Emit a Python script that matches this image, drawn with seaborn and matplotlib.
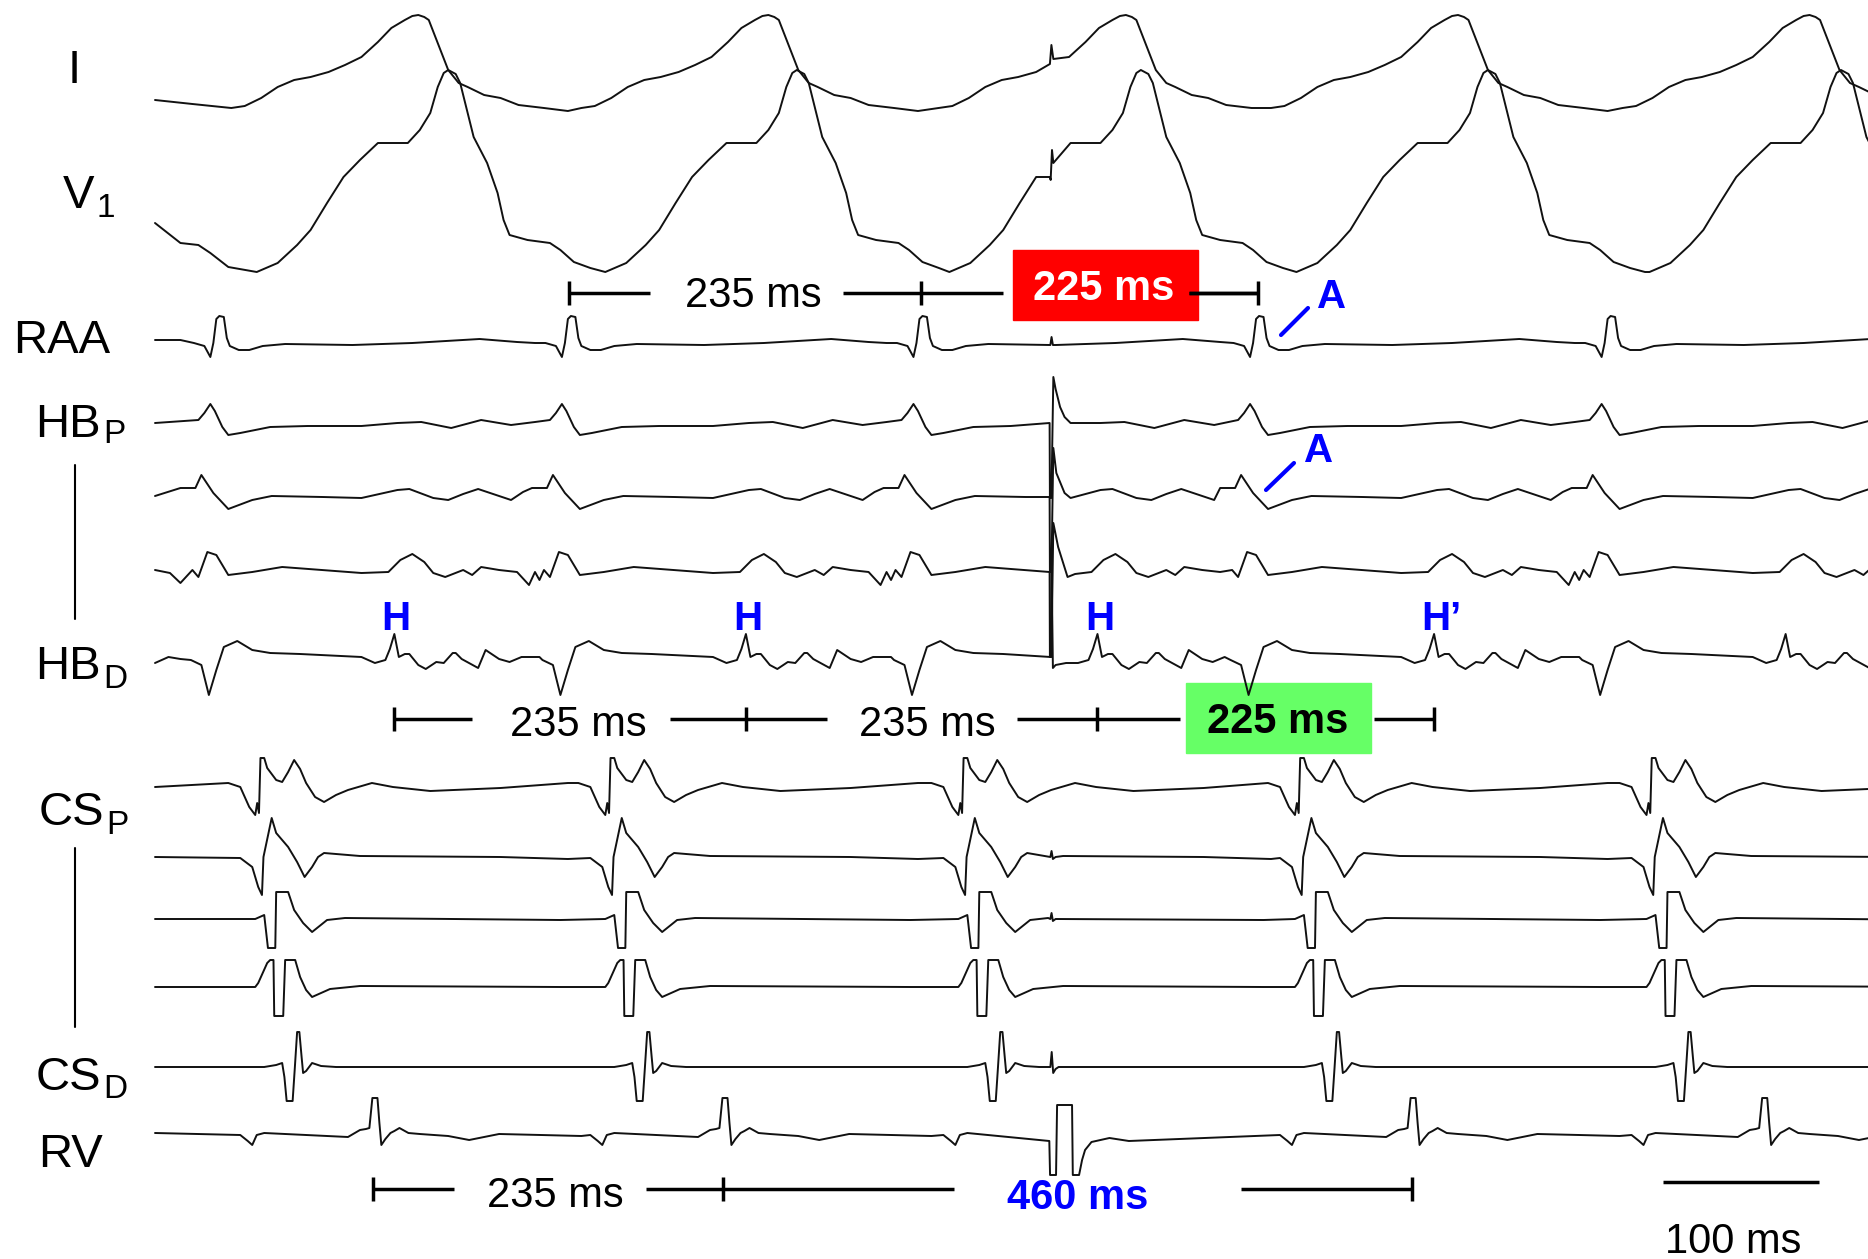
import numpy as np
import pandas as pd
import matplotlib.pyplot as plt
import seaborn as sns
from matplotlib.patches import Rectangle

sns.set_theme(style='white')
plt.rcParams['font.family'] = ['Liberation Sans', 'DejaVu Sans']
plt.rcParams['text.color'] = 'black'

# ---- timing (ms from the left edge of the traces) ----
RAA_T = [42, 277, 512, 737, 972]       # RAA upstrokes
H_T = [160, 395, 630, 855, 1090]       # His deflections (4th one is H')
V_T = [71, 305, 541, 766, 1001]        # CS ventricular upstrokes
RV_T = [146, 380, 840, 1075]           # RV electrograms
I_PEAK = [176, 410, 649, 871, 1106]
V1_PEAK = [196, 429, 659, 891, 1127]
STIM_T = 599                           # extrastimulus artefact

# ---- waveform shapes: (ms relative to event, amplitude in px, up = +) ----
I_SHAPE = [(-125, -8), (-116, -6), (-105, 2), (-94, 13), (-83, 20), (-72, 23), (-60, 28),
           (-49, 35), (-38, 43), (-27, 58), (-18, 72), (-9, 80), (-4, 84), (0, 85), (4, 83),
           (7, 80), (13, 57), (20, 30), (27, 17), (33, 13), (44, 5), (55, 2), (67, -5),
           (84, -8), (100, -11)]
V1_SHAPE = [(-128, -32), (-114, -23), (-101, -5), (-92, 10), (-81, 37), (-70, 63), (-59, 80),
            (-47, 97), (-37, 97), (-27, 97), (-19, 110), (-12, 127), (-7, 153), (-3, 167),
            (0, 170), (5, 166), (8, 157), (13, 127), (17, 103), (26, 77), (33, 47), (37, 20),
            (41, 5), (53, 0), (68, -3), (75, -10), (84, -22), (95, -28), (105, -32)]
RAA_SHAPE = [(-16, 0), (-9, -3), (-5, -14), (-3, 0), (-1, 24), (1, 27), (4, 26), (6, 5),
             (8, -3), (14, -7), (21, -7), (30, -3), (45, -1), (90, -2), (130, 0), (175, 4),
             (200, 1), (212, 0)]
HBP_SHAPE = [(-13, 3), (-9, 10), (-5, 19), (-2, 12), (3, -4), (7, -12), (15, -10), (35, -4),
             (60, -3), (96, -3), (120, 0), (136, 1), (156, -5), (176, 3), (196, -2), (212, 1)]
HB2_SHAPE = [(-25, 9), (-15, 9), (-11, 22), (-3, 4), (7, -12), (23, -3), (36, 1), (70, 0),
             (96, -1), (120, 7), (128, 8), (144, -1), (154, -3), (164, 3), (174, 8), (184, 3),
             (196, -3), (204, 5)]
HB3_SHAPE = [(-17, 2), (-13, -5), (-7, 20), (-1, 17), (7, -3), (23, 0), (43, 5), (96, -1),
             (114, 0), (122, 12), (130, 18), (138, 10), (144, -1), (152, -5), (164, 2),
             (170, -3), (176, 5), (188, 2), (200, 0), (208, -13), (212, 0), (215, -8)]
HBD_A_SHAPE = [(-18, -3), (-11, -8), (-6, -38), (-1, -13), (4, 10), (13, 16), (23, 7),
               (35, 4), (55, 3), (96, 0)]
HBD_H_SHAPE = [(-13, -6), (-6, -3), (-3, 8), (0, 23), (3, 0), (7, 3), (10, 3), (16, -8),
               (21, -12), (28, -5), (33, -6), (39, 4), (41, 4), (45, -2), (56, -11), (61, 7),
               (70, -2), (77, -5), (85, 0), (97, 0), (106, -6)]
CSP_SHAPE = [(-22, 4), (-14, 0), (-8, -20), (-4, -28), (-2.7, -16), (-1.5, -26), (-0.5, 29),
             (2, 29), (4, 19), (10, 7), (14, 5), (18, 15), (22, 27), (26, 18), (30, 4),
             (36, -10), (42, -15), (50, -8), (58, -3), (74, 4), (88, 0), (113, -4),
             (160, -1), (205, 4)]
CS2_SHAPE = [(-14, -1), (-6, -10), (-2, -30), (0.5, -38), (1.5, 0), (7, 39), (10, 24),
             (18, 10), (24, -5), (29, -20), (34, -10), (38, 0), (42, 4), (66, 1), (160, 0),
             (205, -2)]
CS3_SHAPE = [(-4, 0), (2, 4), (4.5, -29), (9.4, -29), (10, 27), (18, 27), (22, 9), (28, -4),
             (34, -13), (44, -1), (56, 1), (200, -1)]
CS4_SHAPE = [(-4, 0), (-2, 4), (4, 24), (6, 27), (8.2, 27), (8.7, -29), (14.7, -29),
             (16, 27), (22.7, 27), (26, 10), (30, -3), (34, -10), (40, -6), (46, -2),
             (66, 1), (200, 0)]
CSD_SHAPE = [(2, 0), (10, 2), (14, 4), (15.5, -10), (17, -34), (21, -34), (22.5, 0),
             (24, 35), (25.5, 35), (27, 10), (28, -6), (30, -4), (34, 4), (40, 1), (50, 0),
             (200, 0)]
RV_DIP_SHAPE = [(-14, -2), (-9, -8), (-6, -12), (-3, -2), (2, 0)]
RV_SPIKE_SHAPE = [(-17, -4), (-9, 3), (-5, 4), (-2.7, 5), (-0.7, 35), (2.7, 35), (4, 10),
                  (5.3, -12), (8, -6), (11.4, 0), (14, 2), (17.4, 5), (23.4, 0), (31, -1),
                  (50, -3), (64, -7), (84, -1), (112, -2), (139, -3)]

# stimulus artefacts, relative to STIM_T
I_STIM = [(-0.8, 36), (0.2, 55), (1.5, 41)]
V1_STIM = [(-0.8, 63), (-0.3, 60), (0.6, 90), (1.5, 77)]
RAA_STIM = [(-0.5, -2), (0.3, 6), (1.2, -2)]
HBP_STIM = [(-1.0, 0), (-0.8, -75), (0.2, -75), (1.5, 46), (3, 34), (6, 16), (9, 6), (13, 0)]
HB2_STIM = [(-1.0, 0), (-0.8, -75), (0.2, -75), (1.5, 49), (3.5, 24), (9, 4), (13, -1)]
HB3_STIM = [(-1.0, 0), (-0.8, -85), (0.2, -85), (1.5, 49), (4.7, 25), (11, -5), (16, -2)]
HBD_STIM = [(-1.0, 0), (-0.3, 0), (0.3, 95), (1.2, -11), (3, -8), (10, -6), (17, -6)]
CS_SMALL_STIM = [(-0.5, 0), (0.3, 6), (1.2, -2), (3, 0)]
CSD_STIM = [(-0.5, 0), (0.4, 15), (1.4, -6), (3, -2), (5, 0)]
RV_STIM = [(-1.2, -8), (-0.7, -42), (3.3, -42), (4, 28), (14, 28), (14.5, -42), (18.7, -42),
           (20.7, -27), (22.7, -17), (27, -9), (39, -5), (52, -8)]

# start of each trace before its first complex
I_LEAD = [(0, 0), (25, -4)]
V1_LEAD = [(0, 17), (17, -3), (29, -5), (37, -13), (49, -27)]
RAA_LEAD = [(0, 3), (17, 3)]
HBP_LEAD = [(0, 0)]
HB2_LEAD = [(0, 1)]
HB3_LEAD = [(0, 2), (10, -1), (17, -11)]
HBD_LEAD = [(0, -6), (9, 0), (17, -2)]
FLAT_LEAD = [(0, 0)]

# name, baseline row (px), lead-in, [(shape, event times)], [(artefact, time)]
TRACES = [
    ('I', 100, I_LEAD, [(I_SHAPE, I_PEAK)], [(I_STIM, STIM_T)]),
    ('V1', 240, V1_LEAD, [(V1_SHAPE, V1_PEAK)], [(V1_STIM, STIM_T)]),
    ('RAA', 343, RAA_LEAD, [(RAA_SHAPE, RAA_T)], [(RAA_STIM, STIM_T)]),
    ('HBP', 423, HBP_LEAD, [(HBP_SHAPE, RAA_T)], [(HBP_STIM, STIM_T)]),
    ('HB2', 497, HB2_LEAD, [(HB2_SHAPE, RAA_T)], [(HB2_STIM, STIM_T)]),
    ('HB3', 572, HB3_LEAD, [(HB3_SHAPE, RAA_T)], [(HB3_STIM, STIM_T)]),
    ('HBD', 657, HBD_LEAD, [(HBD_A_SHAPE, RAA_T), (HBD_H_SHAPE, H_T)], [(HBD_STIM, STIM_T)]),
    ('CSP', 787, FLAT_LEAD, [(CSP_SHAPE, V_T)], []),
    ('CS2', 857, FLAT_LEAD, [(CS2_SHAPE, V_T)], [(CS_SMALL_STIM, STIM_T)]),
    ('CS3', 919, FLAT_LEAD, [(CS3_SHAPE, V_T)], [(CS_SMALL_STIM, STIM_T)]),
    ('CS4', 987, FLAT_LEAD, [(CS4_SHAPE, V_T)], []),
    ('CSD', 1067, FLAT_LEAD, [(CSD_SHAPE, V_T)], [(CSD_STIM, STIM_T)]),
    ('RV', 1133, FLAT_LEAD, [(RV_DIP_SHAPE, V_T), (RV_SPIKE_SHAPE, RV_T)], [(RV_STIM, STIM_T)]),
]

X0_PX = 155
PX_PER_MS = 1.496


def ms(px):
    return (px - X0_PX) / PX_PER_MS


def build_trace(base, lead, events, inserts):
    evs = [np.asarray(lead, float)]
    for shape, times in events:
        s = np.asarray(shape, float)
        for t in times:
            evs.append(s + [t, 0])
    evs.sort(key=lambda e: e[0, 0])
    keep = []
    for i, e in enumerate(evs):
        if i + 1 < len(evs):
            e = e[e[:, 0] < evs[i + 1][0, 0]]
        keep.append(e)
    pts = np.vstack(keep)
    for shape, t in inserts:
        s = np.asarray(shape, float) + [t, 0]
        mask = (pts[:, 0] >= s[0, 0]) & (pts[:, 0] <= s[-1, 0])
        pts = np.vstack([pts[~mask], s])
    pts = pts[np.argsort(pts[:, 0], kind='stable')]
    return pd.DataFrame({'t': pts[:, 0], 'y': base - pts[:, 1]})


fig = plt.figure(figsize=(18.68, 12.59), dpi=100)
ax = fig.add_axes([0, 0, 1, 1])

for name, base, lead, events, inserts in TRACES:
    df = build_trace(base, lead, events, inserts)
    sns.lineplot(data=df, x='t', y='y', sort=False, estimator=None, color='#111111',
                 lw=1.4, ax=ax, legend=False)

# ---- channel labels ----
LAB = 34
SUB = 24
ax.text(ms(74), 83, 'I', fontsize=LAB, ha='center', va='baseline')
ax.text(ms(62), 353, 'RAA', fontsize=LAB, ha='center', va='baseline')
ax.text(ms(70), 1167, 'RV', fontsize=LAB, ha='center', va='baseline')
for main, sub, xr, yb, dy in [('V', '1', 94, 208, 9), ('HB', 'P', 101, 437, 6),
                              ('HB', 'D', 101, 679, 9), ('CS', 'P', 104, 825, 9),
                              ('CS', 'D', 101, 1090, 8)]:
    ax.text(ms(xr), yb, main, fontsize=LAB, ha='right', va='baseline')
    ax.text(ms(xr + 2), yb + dy, sub, fontsize=SUB, ha='left', va='baseline')
ax.plot([ms(75), ms(75)], [465, 619], color='black', lw=1.5)
ax.plot([ms(75), ms(75)], [848, 1027], color='black', lw=1.5)

# ---- interval bars ----
BAR = dict(color='black', lw=2.5, solid_capstyle='butt')


def bar_row(y, ticks, segs):
    for t in ticks:
        ax.plot([t, t], [y - 12, y + 12], **BAR)
    for a, b in segs:
        ax.plot([a, b], [y, y], **BAR)


# atrial row
bar_row(293, RAA_T[1:4], [(RAA_T[1], RAA_T[1] + 54), (RAA_T[2] - 52, RAA_T[2]),
                          (RAA_T[2], RAA_T[2] + 55), (RAA_T[3] - 46, RAA_T[3])])
ax.text(ms(753), 307, '235 ms', fontsize=30, ha='center', va='baseline')
ax.add_patch(Rectangle((ms(1013), 250), ms(1198) - ms(1013), 70, color='#ff0000', zorder=1))
ax.plot([RAA_T[3] - 46, RAA_T[3]], [293, 293], zorder=3, **BAR)
ax.text(ms(1104), 300, '225 ms', fontsize=30, fontweight='bold', color='white',
        ha='center', va='baseline', zorder=4)

# His row
bar_row(719, H_T[0:4], [(H_T[0], H_T[0] + 52), (H_T[1] - 51, H_T[1]), (H_T[1], H_T[1] + 54),
                        (H_T[2] - 54, H_T[2]), (H_T[2], H_T[2] + 55), (H_T[3] - 40, H_T[3])])
ax.text(ms(578), 736, '235 ms', fontsize=30, ha='center', va='baseline')
ax.text(ms(927), 736, '235 ms', fontsize=30, ha='center', va='baseline')
ax.add_patch(Rectangle((ms(1186), 683), ms(1371) - ms(1186), 70, color='#66ff66', zorder=1))
ax.text(ms(1278), 733, '225 ms', fontsize=30, fontweight='bold', color='black',
        ha='center', va='baseline', zorder=4)

# RV row
bar_row(1189, RV_T[0:3], [(RV_T[0], RV_T[0] + 54), (RV_T[1] - 52, RV_T[1]),
                          (RV_T[1], RV_T[1] + 154), (RV_T[2] - 114, RV_T[2])])
ax.text(ms(555), 1207, '235 ms', fontsize=30, ha='center', va='baseline')
ax.text(ms(1078), 1209, '460 ms', fontsize=30, fontweight='bold', color='#0000ff',
        ha='center', va='baseline')

# scale bar
ax.plot([ms(1663), ms(1819)], [1182, 1182], **BAR)
ax.text(ms(1733), 1253, '100 ms', fontsize=30, ha='center', va='baseline')

# ---- blue markers ----
BLUE = '#0000ff'
for t, lab in zip(H_T[:4], ['H', 'H', 'H', 'H\u2019']):
    ax.text(t + 1.5 - 10, 630, lab, fontsize=29, fontweight='bold', color=BLUE,
            ha='left', va='baseline')
ax.text(ms(1332), 308, 'A', fontsize=29, fontweight='bold', color=BLUE, ha='center', va='baseline')
ax.plot([ms(1281), ms(1308)], [335, 308], color=BLUE, lw=3)
ax.text(ms(1319), 462, 'A', fontsize=29, fontweight='bold', color=BLUE, ha='center', va='baseline')
ax.plot([ms(1266), ms(1294)], [490, 463], color=BLUE, lw=3)

ax.set_xlim(ms(0), ms(1868))
ax.set_ylim(1259, 0)
ax.set_axis_off()
fig.savefig('out.png', dpi=100)
